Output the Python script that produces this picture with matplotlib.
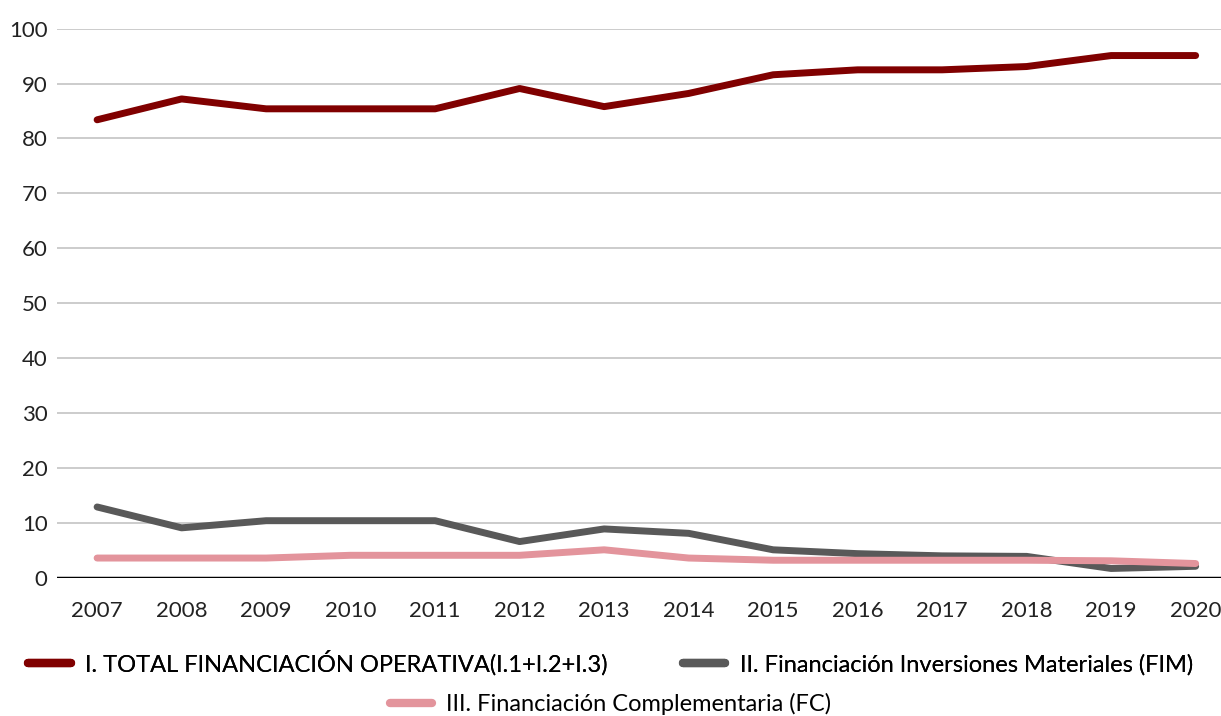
import matplotlib.pyplot as plt
from matplotlib.lines import Line2D

years = list(range(2007, 2021))
total_operativa = [83.4, 87.2, 85.4, 85.4, 85.4, 89.1, 85.8, 88.2, 91.6, 92.5, 92.5, 93.1, 95.1, 95.1]
inversiones = [12.9, 9.1, 10.4, 10.4, 10.4, 6.6, 8.9, 8.1, 5.1, 4.4, 4.0, 3.9, 1.7, 2.1]
complementaria = [3.6, 3.6, 3.6, 4.1, 4.1, 4.1, 5.1, 3.6, 3.2, 3.2, 3.2, 3.2, 3.1, 2.6]

labels = ['I. TOTAL FINANCIACIÓN OPERATIVA(I.1+I.2+I.3)',
          'II. Financiación Inversiones Materiales (FIM)',
          'III. Financiación Complementaria (FC)']
colors = ['#800000', '#595959', '#E3949C']

plt.rcParams['font.family'] = ['Lato', 'DejaVu Sans']

fig = plt.figure(figsize=(12.21, 7.16), dpi=100)
ax = fig.add_axes([0.047, 0.193, 0.953, 0.767])

ax.plot(years, total_operativa, color=colors[0], lw=5, solid_capstyle='round', solid_joinstyle='round', zorder=3)
ax.plot(years, inversiones, color=colors[1], lw=5, solid_capstyle='round', solid_joinstyle='round', zorder=3)
ax.plot(years, complementaria, color=colors[2], lw=5, solid_capstyle='round', solid_joinstyle='round', zorder=4)

ax.set_xlim(2006.53, 2020.3)
ax.set_ylim(0, 100)
ax.set_yticks(range(0, 101, 10))
ax.set_xticks(years)
ax.yaxis.grid(True, color='#C8C8C8', lw=1.3)
ax.set_axisbelow(True)
ax.axhline(0, color='black', lw=2.5, zorder=5)
for s in ax.spines.values():
    s.set_visible(False)
ax.tick_params(length=0, labelsize=16, colors='#222222')
ax.tick_params(axis='x', pad=17)
ax.tick_params(axis='y', pad=7)

handles = [Line2D([], [], color=c, lw=6, solid_capstyle='round') for c in colors]
leg1 = fig.legend(handles[:2], labels[:2], loc='center', bbox_to_anchor=(0.5, 1 - 663 / 716),
                  ncol=2, frameon=False, fontsize=17, handlelength=1.8, columnspacing=3.2, handletextpad=0.6)
fig.add_artist(leg1)
fig.legend(handles[2:], labels[2:], loc='center', bbox_to_anchor=(0.5, 1 - 704 / 716),
           frameon=False, fontsize=17, handlelength=1.8, handletextpad=0.6)

fig.savefig('out.png', dpi=100)
